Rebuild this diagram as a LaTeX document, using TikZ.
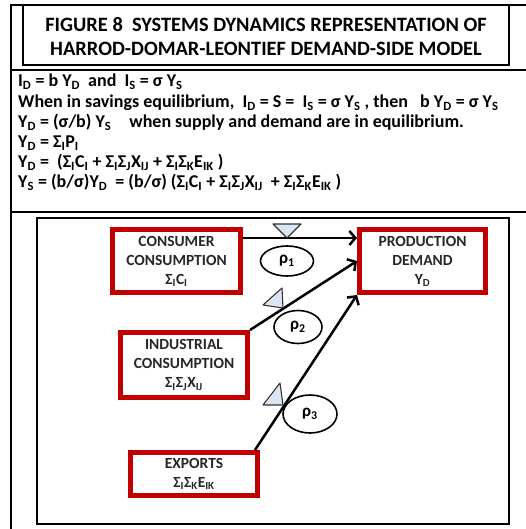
\documentclass[tikz,border=0pt]{standalone}
\usepackage{fontspec}
\setmainfont{Carlito}
\usetikzlibrary{shapes.geometric,arrows.meta}
\definecolor{boxred}{HTML}{C00000}
\definecolor{valveblue}{HTML}{DCE6F2}
\newcommand\sbs[1]{\textsubscript{#1}}
\begin{document}
\begin{tikzpicture}[x=1pt,y=-1pt,
 redbox/.style={draw=boxred, line width=5pt, align=center, inner sep=0pt, font=\bfseries\fontsize{15.5}{19}\selectfont, text=black!85},
 rho/.style={draw, ellipse, line width=1.6pt, inner sep=0pt, font=\bfseries\fontsize{17}{17}\selectfont},
 valve/.style={draw=black!80, fill=valveblue, line width=1.1pt, line join=round},
 flow/.style={line width=2.5pt, -{Straight Barb[length=6pt,width=14pt]}},
 frame/.style={line width=1.8pt},
 eq/.style={anchor=base west, inner sep=0pt, font=\bfseries\fontsize{18}{20}\selectfont},
 ttl/.style={anchor=base, inner sep=0pt, font=\bfseries\fontsize{20.4}{22}\selectfont}]
\useasboundingbox (0,0) rectangle (526,529);
% frame
\draw[frame] (11,529) -- (11,5) -- (526,5);
\draw[frame] (11,70) -- (526,70);
\draw[frame] (11,212) -- (526,212);
\draw[frame] (23,5) rectangle (509,65);
\draw[frame] (37,218) rectangle (509,524);
% title
\node[ttl] (t1) at (266,32) {FIGURE 8\ \ SYSTEMS DYNAMICS REPRESENTATION OF};
\node[ttl] (t2) at (266,56) {HARROD-DOMAR-LEONTIEF DEMAND-SIDE MODEL};
% equations
\node[eq] (e1) at (18,87) {I\sbs{D} = b Y\sbs{D}\ \ and\ \ I\sbs{S} = σ Y\sbs{S}};
\node[eq] (e2) at (18,108) {When in savings equilibrium,\ \ I\sbs{D} = S =\ \ I\sbs{S} = σ Y\sbs{S} , then\ \ \ b Y\sbs{D} = σ Y\sbs{S}};
\node[eq] (e3) at (18,128) {Y\sbs{D} = (σ/b) Y\sbs{S}\quad when supply and demand are in equilibrium.};
\node[eq] (e4) at (18,148) {Y\sbs{D} = Σ\sbs{I}P\sbs{I}};
\node[eq] (e5) at (18,168) {Y\sbs{D} =\ \ (Σ\sbs{I}C\sbs{I} + Σ\sbs{I}Σ\sbs{J}X\sbs{IJ} + Σ\sbs{I}Σ\sbs{K}E\sbs{IK} )};
\node[eq] (e6) at (18,188) {Y\sbs{S} = (b/σ)Y\sbs{D}\ \ = (b/σ) (Σ\sbs{I}C\sbs{I} + Σ\sbs{I}Σ\sbs{J}X\sbs{IJ}\ \ + Σ\sbs{I}Σ\sbs{K}E\sbs{IK} )};
% boxes
\node[redbox, minimum width=128pt, minimum height=63pt] (cons) at (176.5,261) {CONSUMER\\CONSUMPTION\\Σ\sbs{I}C\sbs{I}};
\node[redbox, minimum width=126pt, minimum height=63pt] (prod) at (422.5,261) {PRODUCTION\\DEMAND\\Y\sbs{D}};
\node[redbox, minimum width=127pt, minimum height=65pt] (ind) at (184,365) {INDUSTRIAL\\CONSUMPTION\\Σ\sbs{I}Σ\sbs{J}X\sbs{IJ}};
\node[redbox, minimum width=127pt, minimum height=43pt] (exp) at (194,474) {EXPORTS\\Σ\sbs{I}Σ\sbs{K}E\sbs{IK}};
% rho ellipses
\node[rho, minimum width=53pt, minimum height=30pt] (r1) at (287,261) {ρ\sbs{1}};
\node[rho, minimum width=48pt, minimum height=33pt] (r2) at (298,327) {ρ\sbs{2}};
\node[rho, minimum width=54pt, minimum height=38pt] (r3) at (310,414) {ρ\sbs{3}};
% flows
\draw[flow] ([yshift=23pt]cons.east) -- ([yshift=23pt]prod.west);
\draw[flow] (ind.north east) -- (prod.west);
\draw[flow] ([xshift=-5pt]exp.north east) -- (prod.south west);
% valves
\draw[valve] (273,224) -- (301,224) -- (287,238) -- cycle;
\draw[valve] (263,305) -- (282,288) -- (283,308) -- cycle;
\draw[valve] (263,405) -- (280,383) -- (283,405) -- cycle;
\end{tikzpicture}
\end{document}
